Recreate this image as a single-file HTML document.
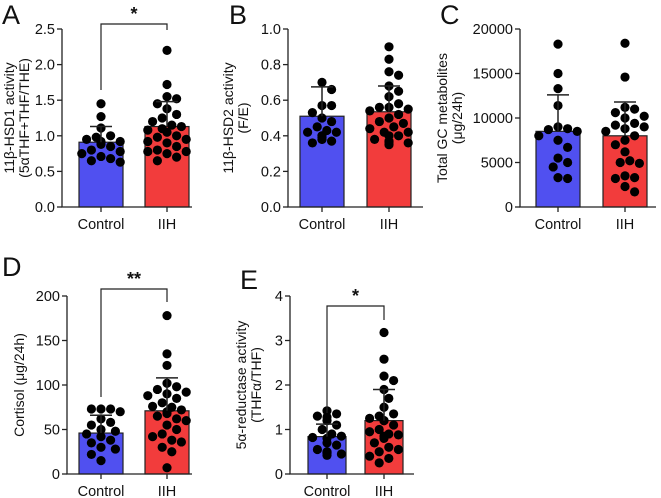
<!DOCTYPE html>
<html><head><meta charset="utf-8"><style>
html,body{margin:0;padding:0;background:#fff;}
svg{display:block;font-family:"Liberation Sans",sans-serif;}
</style></head><body>
<svg id="fig" width="661" height="498" viewBox="0 0 661 498"></svg>
<script>
// Panel A
const aCtrl=[1.45,1.27,1.11,1.0,0.98,0.95,0.92,0.92,0.9,0.88,0.85,0.8,0.78,0.75,0.71,0.68,0.65,0.63];
const aIIH=[2.2,1.72,1.55,1.52,1.45,1.38,1.3,1.25,1.2,1.15,1.13,1.1,1.08,1.05,1.0,0.98,0.95,0.92,0.9,0.85,0.8,0.78,0.78,0.75,0.7,0.65];
const aMean=[0.91,1.13], aErr=[1.13,1.48], aTicks=["0.0","0.5","1.0","1.5","2.0","2.5"];
// Panel B
const bCtrl=[0.7,0.66,0.57,0.57,0.53,0.5,0.48,0.45,0.43,0.42,0.42,0.4,0.4,0.39,0.38,0.38,0.37,0.36];
const bIIH=[0.9,0.83,0.76,0.74,0.68,0.65,0.62,0.58,0.56,0.56,0.55,0.54,0.52,0.5,0.48,0.47,0.45,0.44,0.42,0.42,0.4,0.4,0.38,0.37,0.36,0.36,0.35];
const bMean=[0.51,0.535], bErr=[0.675,0.68], bTicks=["0.0","0.2","0.4","0.6","0.8","1.0"];
// Panel C
const cCtrl=[18300,15000,13300,11400,9000,8700,8800,8500,8000,7500,6700,5500,5000,4500,3200,3300];
const cIIH=[18400,14600,11200,11000,10600,10200,10000,9400,9200,9000,8800,8500,8000,7500,7000,6200,5200,5000,4900,3500,3300,3200,2300,1700];
const cMean=[8500,8000], cErr=[12600,11800], cTicks=["0","5000","10000","15000","20000"];
// Panel D
const dCtrl=[73,73,73,70,62,58,55,50,48,45,42,38,35,30,28,22,15];
const dIIH=[178,135,122,102,98,95,92,90,88,85,80,76,75,72,70,68,65,62,60,55,50,45,42,38,36,30,25,7];
const dMean=[46,71], dErr=[66,108], dTicks=["0","50","100","150","200"];
// Panel E
const eCtrl=[1.42,1.35,1.3,1.28,1.2,1.1,1.0,0.9,0.85,0.82,0.8,0.7,0.65,0.55,0.5,0.48,0.47,0.45,0.42];
const eIIH=[3.18,2.58,2.2,2.1,1.9,1.7,1.5,1.35,1.3,1.25,1.2,1.2,1.1,1.0,0.95,0.9,0.88,0.85,0.8,0.7,0.6,0.55,0.5,0.4,0.35,0.25];
const eMean=[0.84,1.2], eErr=[1.12,1.9], eTicks=["0","1","2","3","4"];
const categories=["Control","IIH"];

const NS="http://www.w3.org/2000/svg";
const svg=document.getElementById('fig');
function mk(tag,attrs,parent,text){const e=document.createElementNS(NS,tag);for(const k in attrs)e.setAttribute(k,attrs[k]);if(text!==undefined)e.textContent=text;(parent||svg).appendChild(e);return e;}

function panel(o){
  const g=mk('g',{});
  
  
  const ymax=parseFloat(o.ticks[o.ticks.length-1]);
  const y=v=>o.y0-(v/ymax)*(o.y0-o.yTop);
  const xs=[o.cx1,o.cx2];
  const t=mk('text',{x:o.lx,y:o.ly,'font-size':27,fill:'#111'},g,o.letter);
  
  
  const colors=['#5050f0','#f23c3c'];
  const series=[o.c,o.i];
  for(let s=0;s<2;s++){
    const bw=o.bw;
    const b=mk('rect',{x:xs[s]-bw/2,y:y(o.mean[s]),width:bw,height:y(0)-y(o.mean[s]),fill:colors[s],stroke:'#222','stroke-width':1.2},g);
    
    
  }
  for(let s=0;s<2;s++){
    const vals=series[s].slice().sort((a,b)=>b-a);
    const placed=[];const r=4.6,d=9.6;
    vals.forEach(v=>{
      const py=y(v);let off=0;
      const cands=[0];for(let k=1;k<8;k++){cands.push(k*d/2);cands.push(-k*d/2);}
      for(const c of cands){if(Math.abs(c)>o.bw/2)continue;let ok=true;for(const p of placed){if(Math.hypot(p[0]-c,p[1]-py)<d){ok=false;break;}}if(ok){off=c;break;}}
      placed.push([off,py]);
      const dot=mk('circle',{cx:xs[s]+off,cy:py,r:r,fill:'#000'},g);
      
      
    });
    const eb=mk('path',{d:`M${xs[s]},${y(o.mean[s])}V${y(o.err[s])}M${xs[s]-11},${y(o.err[s])}H${xs[s]+11}`,stroke:'#222','stroke-width':1.5,fill:'none'},g);
    
    
  }
  const ax=mk('path',{d:`M${o.ax},${o.yTop}V${o.y0}H${o.axEnd}`,stroke:'#222','stroke-width':1.3,fill:'none'},g);
  
  
  o.ticks.forEach(tk=>{
    const v=parseFloat(tk),py=y(v);
    mk('line',{x1:o.ax-5,x2:o.ax,y1:py,y2:py,stroke:'#222','stroke-width':1.3},g);
    const tl=mk('text',{x:o.ax-7,y:py+5,'font-size':14.5,'text-anchor':'end',fill:'#111'},g,tk);
    
    
  });
  categories.forEach((c,s)=>{
    mk('line',{x1:xs[s],x2:xs[s],y1:o.y0,y2:o.y0+5,stroke:'#222','stroke-width':1.3},g);
    const cl=mk('text',{x:xs[s],y:o.y0+22,'font-size':14.5,'text-anchor':'middle',fill:'#111'},g,c);
    
    
  });
  o.title.forEach((line,k)=>{
    const tx=o.tx+k*15,ty=(o.y0+o.yTop)/2;
    const tt=mk('text',{x:tx,y:ty,'font-size':14,'text-anchor':'middle',fill:'#111',transform:`rotate(-90 ${tx} ${ty})`},g,line);
    
    
  });
  if(o.sig){
    const br=mk('path',{d:`M${xs[0]},${o.sig.l}V${o.sig.top}H${xs[1]}V${o.sig.r}`,stroke:'#222','stroke-width':1.2,fill:'none'},g);
    
    
    const st=mk('text',{x:(xs[0]+xs[1])/2,y:o.sig.top-4,'font-size':18,'font-weight':'bold','text-anchor':'middle',fill:'#111'},g,o.sig.txt);
    
    
  }
}
panel({letter:'A',lx:2,ly:24,c:aCtrl,i:aIIH,mean:aMean,err:aErr,ticks:aTicks,ax:62,axEnd:192,yTop:29,y0:207,cx1:101,cx2:167,bw:44,tx:14,title:["11β-HSD1 activity","(5αTHF+THF/THE)"],sig:{l:90,top:24,r:30,txt:'*'}});
panel({letter:'B',lx:229,ly:24,c:bCtrl,i:bIIH,mean:bMean,err:bErr,ticks:bTicks,ax:288,axEnd:423,yTop:29,y0:207,cx1:322,cx2:389,bw:44,tx:233,title:["11β-HSD2 activity","(F/E)"]});
panel({letter:'C',lx:440,ly:24,c:cCtrl,i:cIIH,mean:cMean,err:cErr,ticks:cTicks,ax:520,axEnd:656,yTop:29,y0:207,cx1:558,cx2:625,bw:44,tx:447,title:["Total GC metabolites","(μg/24h)"]});
panel({letter:'D',lx:2,ly:276,c:dCtrl,i:dIIH,mean:dMean,err:dErr,ticks:dTicks,ax:67,axEnd:192,yTop:296,y0:474,cx1:101,cx2:167,bw:44,tx:24,title:["Cortisol (μg/24h)"],sig:{l:397,top:289,r:302,txt:'**'}});
panel({letter:'E',lx:240,ly:289,c:eCtrl,i:eIIH,mean:eMean,err:eErr,ticks:eTicks,ax:290,axEnd:414,yTop:296,y0:474,cx1:327,cx2:384,bw:38,tx:246,title:["5α-reductase activity","(THFα/THF)"],sig:{l:413,top:306,r:320,txt:'*'}});
</script>
</body></html>
